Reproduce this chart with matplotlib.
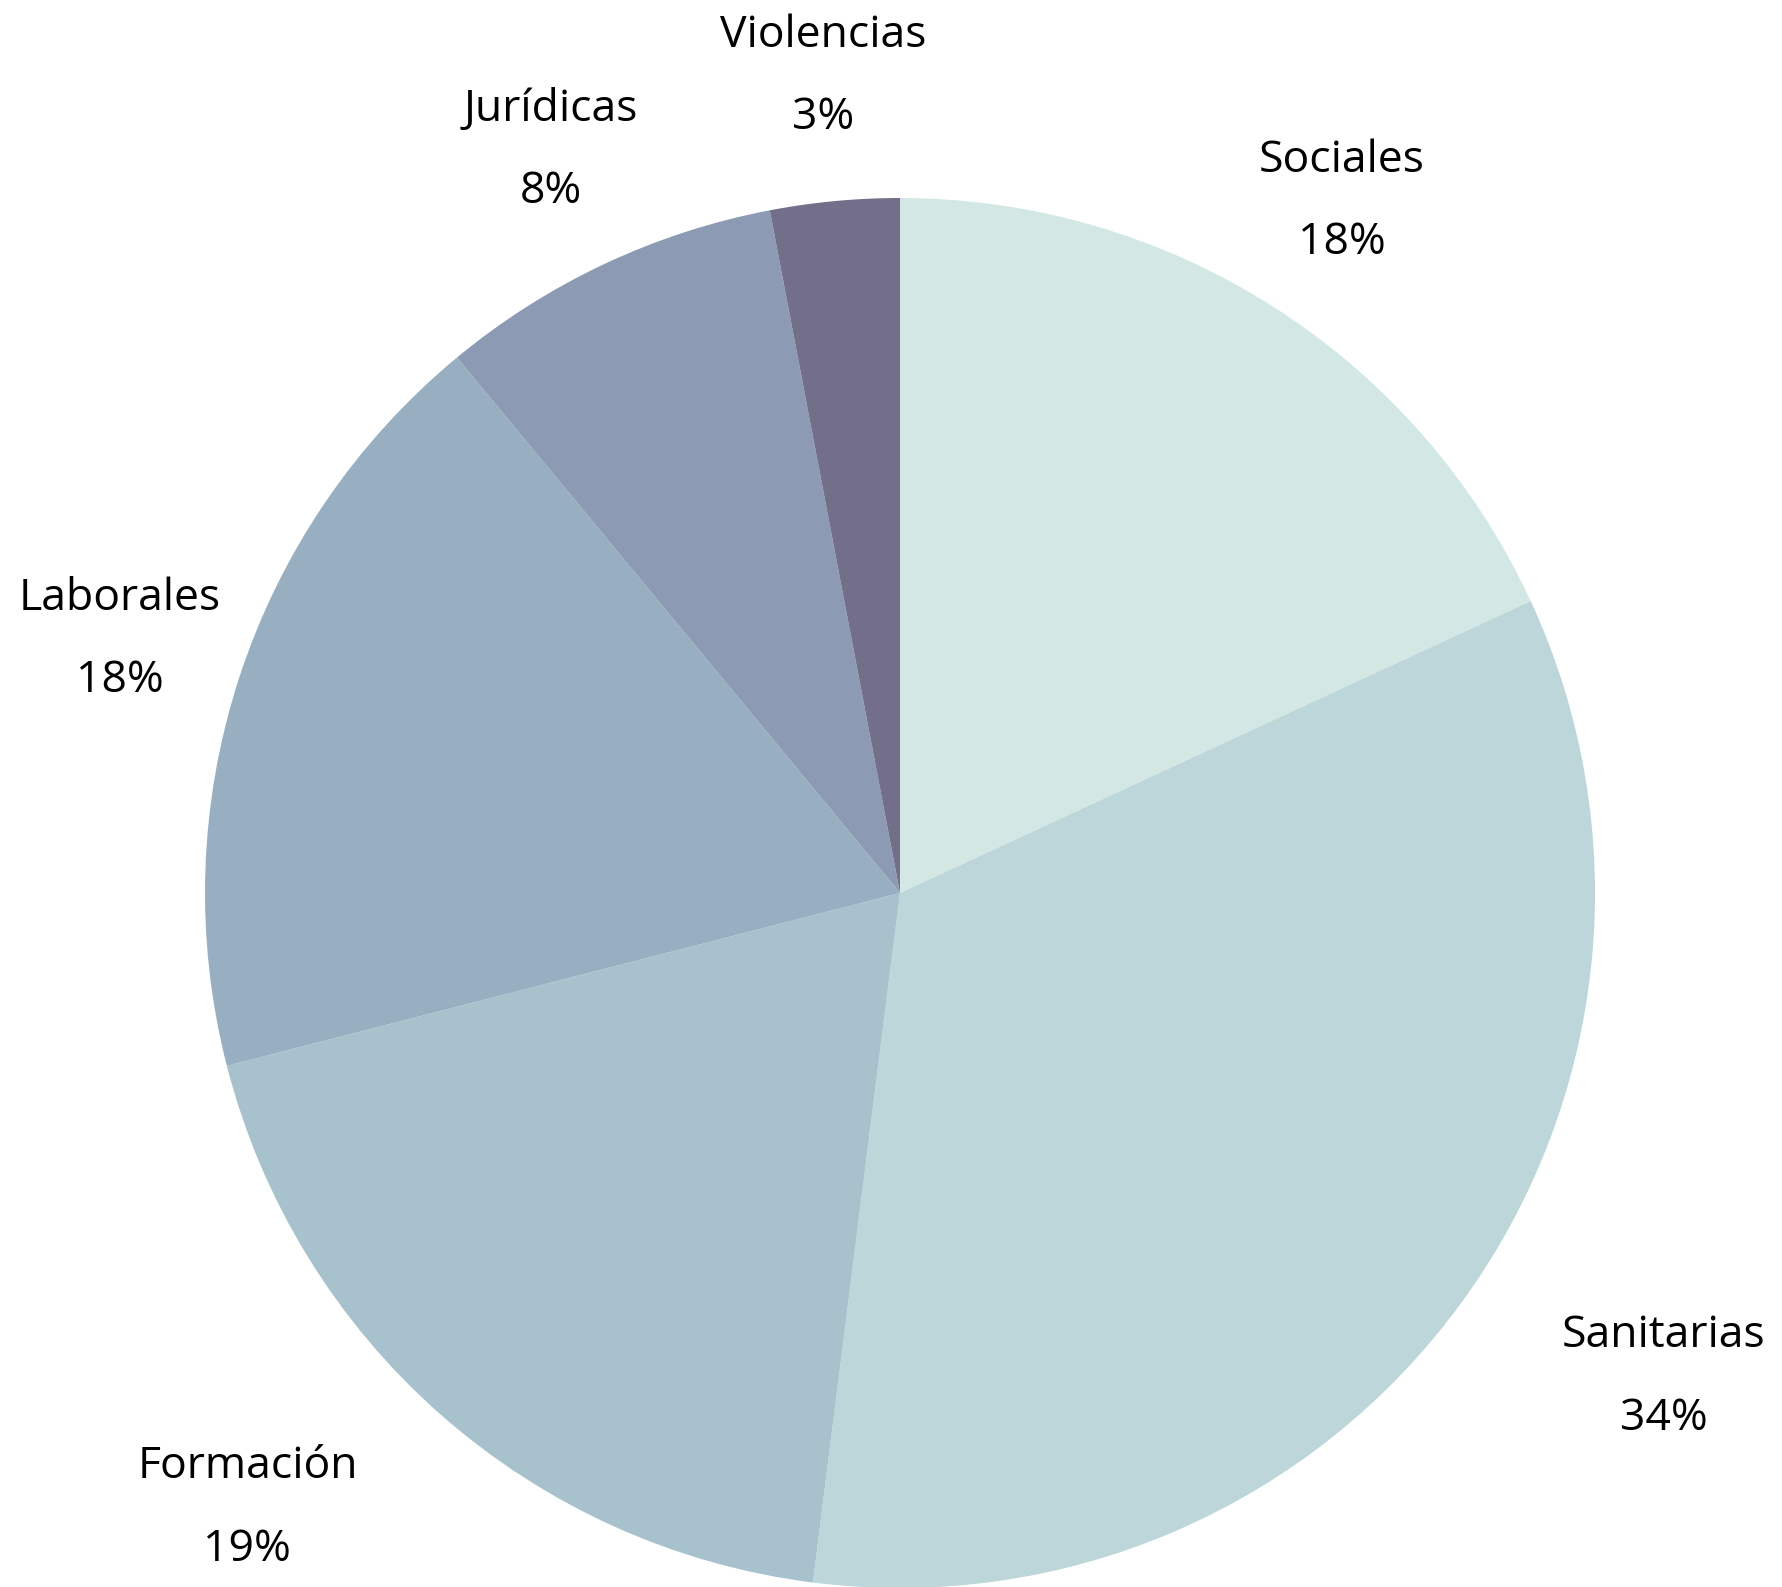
import matplotlib
matplotlib.use("Agg")
import matplotlib.pyplot as plt
import numpy as np

categories = ["Sociales", "Sanitarias", "Formación", "Laborales", "Jurídicas", "Violencias"]
values = [18.1, 33.9, 19.0, 18.0, 8.0, 3.0]
pct_labels = ["18%", "34%", "19%", "18%", "8%", "3%"]
colors = ["#d3e8e5", "#bcd6d9", "#a7c2cc", "#98afc2", "#8c9ab3", "#736f8a"]

plt.rcParams['font.family'] = ['Open Sans', 'DejaVu Sans']

fig = plt.figure(figsize=(17.82, 15.87), dpi=100)
ax = fig.add_axes([0, 0, 1, 1])

labels = [f"{c}\n{p}" for c, p in zip(categories, pct_labels)]
wedges, texts = ax.pie(values, labels=labels, colors=colors, startangle=90,
                       counterclock=False, labeldistance=1.18, radius=1.0,
                       wedgeprops=dict(linewidth=0),
                       textprops=dict(fontsize=32, color="#000000",
                                      multialignment="center", linespacing=2.13))
for w, t in zip(wedges, texts):
    ang = np.deg2rad((w.theta1 + w.theta2) / 2)
    if np.sin(ang) > 0:
        t.set_horizontalalignment("center")
    t.set_verticalalignment("center")

px = 695.0
ax.set_xlim(-900 / px, (1782 - 900) / px)
ax.set_ylim(-694 / px, 893 / px)
ax.set_aspect("auto")
ax.axis("off")

fig.savefig("out.png", dpi=100, facecolor="white")
